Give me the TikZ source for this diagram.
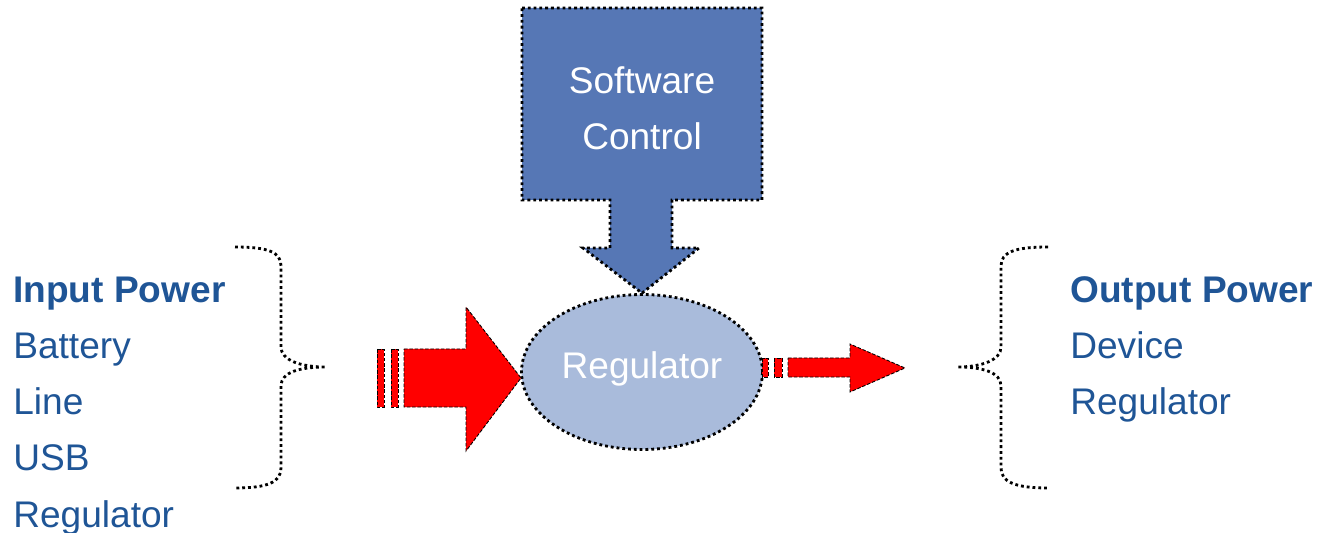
\documentclass[tikz,border=0pt]{standalone}
\usepackage{fontspec}
\setmainfont{Liberation Sans}
\usepackage{tikz}
\usetikzlibrary{calc}
\usetikzlibrary{shapes.geometric}
\definecolor{ctrlblue}{HTML}{5677B5}
\definecolor{regblue}{HTML}{A9BBDB}
\definecolor{textblue}{HTML}{1F5596}
\newcommand{\bigfont}{\fontsize{21.1}{31.9}\selectfont}

\begin{document}
\begin{tikzpicture}[%
    x=0.02cm, y=-0.02cm,
    outline/.style={
      draw=black,
      line width=1.6pt,
      dash pattern=on 1.6pt off 1.7pt
    },
    power/.style={
      fill=red,
      draw=black,
      line width=0.5pt,
      dash pattern=on 2pt off 1pt
    },
    label/.style={
      text=textblue,
      align=left,
      inner sep=0pt,
      font=\bigfont
    },
    ]
    \useasboundingbox (0,0) rectangle (1318,533);

    % regulator in the middle
    \draw (642,372) node[ellipse, outline, fill=regblue, minimum width=4.82cm,
      minimum height=3.1cm, text=white, font=\bigfont] (reg) {};
    \draw (642,378) node[anchor=base, text=white, font=\bigfont, inner sep=0pt] (regtext) {Regulator};

    % software control box with its arrow
    \draw[outline, fill=ctrlblue] (522,8) -- (762,8) -- (762,200) -- (672,200)
      -- (672,248) -- (699,248) -- (reg.north) -- (583,248) -- (610,248)
      -- (610,200) -- (522,200) -- cycle;
    \draw (642,150) node[anchor=base, text=white, align=center, font=\bigfont, inner sep=0pt] (sw) {Software\\Control};

    % power in
    \draw[power] (377,349) rectangle (384,407);
    \draw[power] (391,349) rectangle (398,407);
    \draw[power] (404,349) -- (466,349) -- (466,307) -- (521,378) -- (466,451)
      -- (466,407) -- (404,407) -- cycle;

    % power out
    \draw[power] (762,358) rectangle (768,377);
    \draw[power] (774,358) rectangle (782,377);
    \draw[power] (788,358) -- (850,358) -- (850,344) -- (905,368) -- (850,392)
      -- (850,377) -- (788,377) -- cycle;

    % braces
    \draw[outline] (235,247) .. controls (268,247) and (281,252) .. (281,266)
      -- (281,347) .. controls (281,360) and (300,367) .. (326,367)
      .. controls (300,367) and (281,372) .. (281,386) -- (281,468)
      .. controls (281,482) and (268,488) .. (235,488);
    \draw[outline] (1048,247) .. controls (1015,247) and (1001,252) .. (1001,266)
      -- (1001,347) .. controls (1001,360) and (982,367) .. (957,367)
      .. controls (982,367) and (1001,372) .. (1001,386) -- (1001,468)
      .. controls (1001,482) and (1015,488) .. (1048,488);

    % lists
    \draw (13,527) node[label, anchor=base west] (in) {\textbf{Input Power}\\Battery\\Line\\USB\\Regulator};
    \draw (1070,415) node[label, anchor=base west] (out) {\textbf{Output Power}\\Device\\Regulator};
  \end{tikzpicture}
\end{document}
